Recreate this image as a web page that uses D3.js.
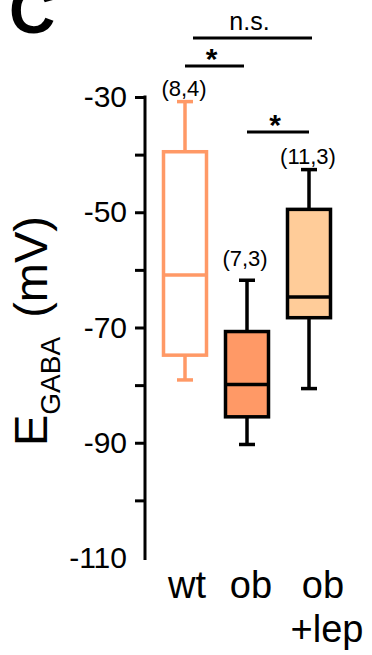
<!DOCTYPE html>
<html lang="en">
<head>
<meta charset="utf-8">
<title>E GABA</title>
<style>
  body { margin: 0; background: #fff; }
  text { font-family: "Liberation Sans", Arial, sans-serif; fill: #000; }
</style>
</head>
<body>
<div id="chart"></div>
<script src="https://d3js.org/d3.v7.min.js"></script>
<script>
// data (mV)
const groups = ["wt", "ob", "ob+lep"];
const whiskerLow  = [-79.1, -90.3, -80.6];
const boxLow      = [-74.8, -85.5, -68.3];
const medians     = [-60.9, -79.9, -64.7];
const boxHigh     = [-39.5, -70.7, -49.5];
const whiskerHigh = [-30.8, -61.8, -42.6];
const nLabels = ["(8,4)", "(7,3)", "(11,3)"];
const tickValues = [-110, -100, -90, -80, -70, -60, -50, -40, -30];
const labelledTicks = [-110, -90, -70, -50, -30];
// significance brackets: from group, to group, label
const sigFrom = ["wt", "wt", "ob"];
const sigTo = ["ob", "ob+lep", "ob+lep"];
const sigText = ["*", "n.s.", "*"];

const fills   = ["#ffffff", "#ff9966", "#ffcc99"];
const strokes = ["#ff9966", "#000000", "#000000"];

const W = 372, H = 655;
const svg = d3.select("#chart").append("svg")
    .attr("width", W).attr("height", H);

const y = d3.scaleLinear().domain([-110, -30]).range([558, 97]);
const x = d3.scalePoint().domain(groups).range([185, 309]);
const boxW = 43;

// y axis
const axis = d3.axisLeft(y)
    .tickValues(tickValues)
    .tickSize(10)
    .tickPadding(8)
    .tickFormat(d => labelledTicks.includes(d) ? d : "");
const gAxis = svg.append("g")
    .attr("transform", "translate(145,0)")
    .call(axis);
gAxis.select(".domain").remove();
gAxis.append("line")
    .attr("x1", 0).attr("x2", 0)
    .attr("y1", y(-30) - 1.5).attr("y2", y(-110) + 2)
    .attr("stroke", "#000").attr("stroke-width", 3);
gAxis.selectAll(".tick line").attr("stroke-width", 3)
    .filter(d => d === -110).remove();
gAxis.selectAll(".tick text")
    .style("font-family", "'Liberation Sans', Arial, sans-serif")
    .style("font-size", "30px")
    .attr("fill", "#000");

// y label
const yl = svg.append("text")
    .attr("transform", "translate(47,331) rotate(-90)")
    .attr("text-anchor", "middle")
    .style("font-size", "47px");
yl.append("tspan").text("E");
yl.append("tspan").text("GABA").style("font-size", "28px").attr("dy", 13);
yl.append("tspan").text("\u00a0(mV)").attr("dy", -13).attr("dx", 6);

// boxes
const g = svg.selectAll("g.box")
    .data(groups)
    .join("g")
    .attr("class", "box");

g.append("line")
    .attr("x1", d => x(d)).attr("x2", d => x(d))
    .attr("y1", (d, i) => y(whiskerHigh[i])).attr("y2", (d, i) => y(whiskerLow[i]))
    .attr("stroke", (d, i) => strokes[i]).attr("stroke-width", 3.5);
[whiskerHigh, whiskerLow].forEach(vals => {
  g.append("line")
      .attr("x1", d => x(d) - 8).attr("x2", d => x(d) + 8)
      .attr("y1", (d, i) => y(vals[i])).attr("y2", (d, i) => y(vals[i]))
      .attr("stroke", (d, i) => strokes[i]).attr("stroke-width", 3.5);
});
g.append("rect")
    .attr("x", d => x(d) - boxW / 2)
    .attr("width", boxW)
    .attr("y", (d, i) => y(boxHigh[i]))
    .attr("height", (d, i) => y(boxLow[i]) - y(boxHigh[i]))
    .attr("fill", (d, i) => fills[i])
    .attr("stroke", (d, i) => strokes[i]).attr("stroke-width", 3.5);
g.append("line")
    .attr("x1", d => x(d) - boxW / 2).attr("x2", d => x(d) + boxW / 2)
    .attr("y1", (d, i) => y(medians[i])).attr("y2", (d, i) => y(medians[i]))
    .attr("stroke", (d, i) => strokes[i]).attr("stroke-width", 3.5);
const nGap = [6, 14, 6];
g.append("text")
    .attr("x", (d, i) => x(d) - [1, 2, 1][i])
    .attr("y", (d, i) => y(whiskerHigh[i]) - nGap[i])
    .attr("text-anchor", "middle")
    .style("font-size", "22px")
    .text((d, i) => nLabels[i]);

// category labels
const xl = svg.append("g").selectAll("text")
    .data(groups)
    .join("text")
    .attr("x", (d, i) => x(d) + [2, 4, 14][i])
    .attr("y", 598)
    .attr("text-anchor", "middle")
    .style("font-size", "38px");
xl.each(function(d) {
  const parts = d.split("+");
  const t = d3.select(this);
  t.append("tspan").text(parts[0]);
  if (parts[1]) {
    t.append("tspan").attr("x", t.attr("x")).attr("dx", 4).attr("dy", 44).text("+" + parts[1]);
  }
});

// significance brackets
const sigY = [66, 38, 132];
const sigInset = [[0, -3], [8, 3], [0, 0]];
sigText.forEach((s, i) => {
  const x1 = x(sigFrom[i]) + sigInset[i][0], x2 = x(sigTo[i]) + sigInset[i][1];
  svg.append("line")
      .attr("x1", x1).attr("x2", x2)
      .attr("y1", sigY[i]).attr("y2", sigY[i])
      .attr("stroke", "#000").attr("stroke-width", 3);
  svg.append("text")
      .attr("x", (x1 + x2) / 2 - 3)
      .attr("y", s === "*" ? sigY[i] + 3 : sigY[i] - 8)
      .attr("text-anchor", "middle")
      .style("font-size", s === "*" ? "30px" : "25px")
      .style("font-weight", s === "*" ? "bold" : "normal")
      .text(s);
});

// panel letter
svg.append("text")
    .attr("x", 9).attr("y", 33)
    .style("font-size", "64px")
    .style("font-weight", "bold")
    .text("C");
</script>
</body>
</html>
